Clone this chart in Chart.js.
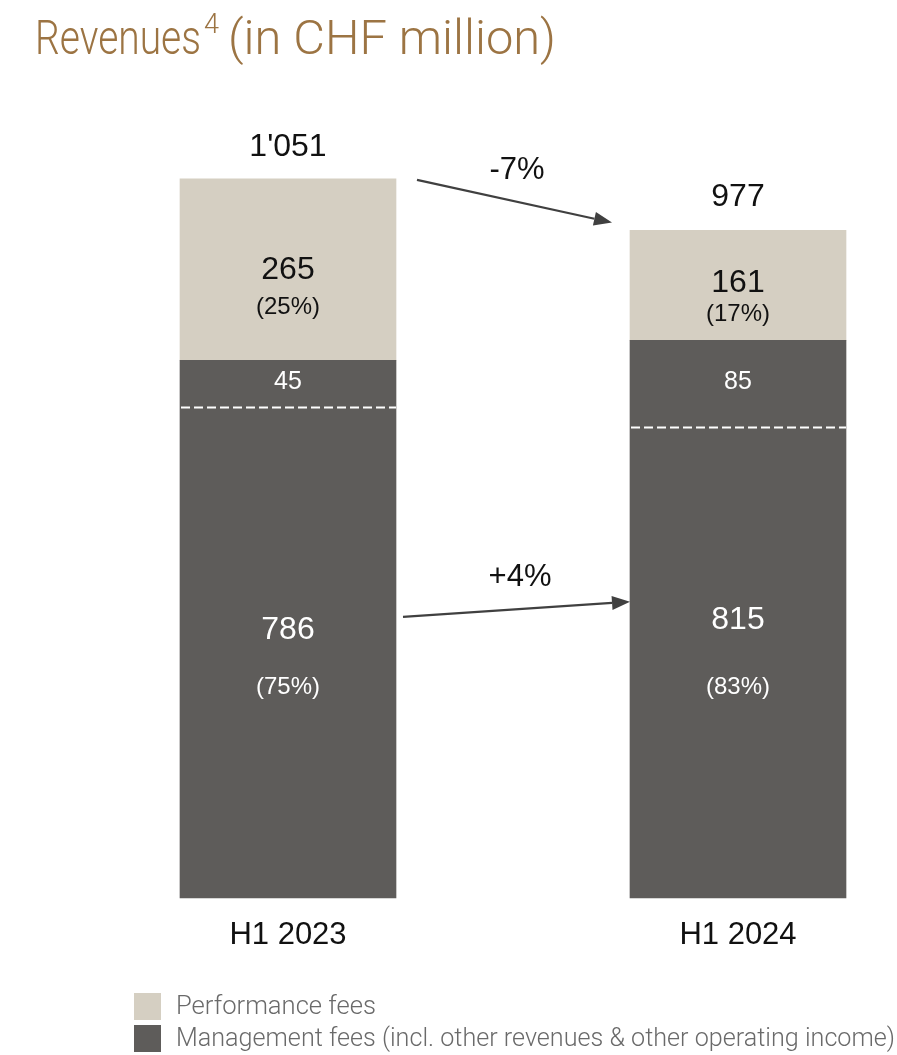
<!DOCTYPE html>
<html>
<head>
<meta charset="utf-8">
<script src="https://cdn.jsdelivr.net/npm/chart.js@4.4.1/dist/chart.umd.min.js"></script>
<style>
  html, body { margin: 0; padding: 0; background: #ffffff; }
  #wrap { width: 897px; height: 1055px; position: relative; }
</style>
</head>
<body>
<div id="wrap"><canvas id="c" width="897" height="1055"></canvas></div>
<script>
// ---- Data ----
const categories = ['H1 2023', 'H1 2024'];
const managementFees = [786, 815];
const performanceFees = [265, 161];
const totals = [1051, 977];
const managementShare = ['(75%)', '(83%)'];
const performanceShare = ['(25%)', '(17%)'];
const managementIncrement = [45, 85];      // portion shown above dashed line
const dashedLevel = [718, 689];            // dashed divider level as drawn
const totalLabels = ["1'051", '977'];
const changeTotal = '-7%';
const changeManagement = '+4%';

const COL_PERF = '#d5cfc2';
const COL_MGMT = '#5e5c5a';
const FONT = '"Liberation Sans", Arial, Helvetica, sans-serif';

const overlay = {
  id: 'overlay',
  afterDatasetsDraw(chart) {
    const ctx = chart.ctx;
    const xs = chart.scales.x, ys = chart.scales.y;
    const meta = chart.getDatasetMeta(0);
    ctx.save();
    // dashed dividers
    categories.forEach((c, i) => {
      const bar = meta.data[i];
      const half = bar.width / 2;
      const y = Math.round(ys.getPixelForValue(dashedLevel[i])) + 0.5;
      ctx.strokeStyle = '#ffffff';
      ctx.lineWidth = 2;
      ctx.setLineDash([9, 4]);
      ctx.beginPath();
      ctx.moveTo(bar.x - half + 1, y);
      ctx.lineTo(bar.x + half, y);
      ctx.stroke();
    });
    ctx.setLineDash([]);
    ctx.textAlign = 'center';
    ctx.textBaseline = 'middle';
    const perfNumOff = [1, -2], perfPctOff = [38, 29];
    const mgmtNumVal = [392, 406], mgmtPctVal = [308, 308];
    categories.forEach((c, i) => {
      const x = xs.getPixelForValue(i);
      // totals
      ctx.fillStyle = '#111111';
      ctx.font = '32px ' + FONT;
      ctx.fillText(totalLabels[i], x, ys.getPixelForValue(totals[i]) - 32);
      // performance segment
      const pm = ys.getPixelForValue(managementFees[i] + performanceFees[i] / 2);
      ctx.fillText(String(performanceFees[i]), x, pm + perfNumOff[i]);
      ctx.font = '24px ' + FONT;
      ctx.fillText(performanceShare[i], x, pm + perfPctOff[i]);
      // management increment
      ctx.fillStyle = '#ffffff';
      const im = (ys.getPixelForValue(managementFees[i]) + ys.getPixelForValue(dashedLevel[i])) / 2 - 1;
      ctx.font = '25px ' + FONT;
      ctx.fillText(String(managementIncrement[i]), x, im);
      // management main
      ctx.font = '32px ' + FONT;
      ctx.fillText(String(managementFees[i]), x, ys.getPixelForValue(mgmtNumVal[i]));
      ctx.font = '24px ' + FONT;
      ctx.fillText(managementShare[i], x, ys.getPixelForValue(mgmtPctVal[i]));
      // category labels
      ctx.fillStyle = '#111111';
      ctx.font = '31px ' + FONT;
      ctx.fillText(categories[i], x, chart.chartArea.bottom + 37, 118);
    });

    // arrows
    function arrow(x1, y1, x2, y2) {
      const ang = Math.atan2(y2 - y1, x2 - x1);
      const L = 18, W = 7;
      const bx = x2 - L * Math.cos(ang), by = y2 - L * Math.sin(ang);
      ctx.strokeStyle = '#404040';
      ctx.fillStyle = '#404040';
      ctx.lineWidth = 2.2;
      ctx.beginPath();
      ctx.moveTo(x1, y1);
      ctx.lineTo(bx, by);
      ctx.stroke();
      ctx.beginPath();
      ctx.moveTo(x2, y2);
      ctx.lineTo(bx + W * Math.sin(ang), by - W * Math.cos(ang));
      ctx.lineTo(bx - W * Math.sin(ang), by + W * Math.cos(ang));
      ctx.closePath();
      ctx.fill();
    }
    const b0 = meta.data[0], b1 = meta.data[1];
    const r0 = b0.x + b0.width / 2, l1 = b1.x - b1.width / 2;
    arrow(r0 + 21, ys.getPixelForValue(totals[0]) + 1, l1 - 18, ys.getPixelForValue(totals[1]) - 7);
    arrow(r0 + 7, ys.getPixelForValue(411), l1, ys.getPixelForValue(433));
    ctx.fillStyle = '#111111';
    ctx.font = '31px ' + FONT;
    ctx.fillText(changeTotal, (r0 + l1) / 2 + 4, 170);
    ctx.fillText(changeManagement, (r0 + l1) / 2 + 7, 577);

    // title
    ctx.textAlign = 'left';
    ctx.textBaseline = 'alphabetic';
    ctx.fillStyle = '#9c7443';
    ctx.font = '300 49px Roboto, ' + FONT;
    ctx.fillText('Revenues', 35, 54, 166);
    ctx.font = '300 28px Roboto, ' + FONT;
    ctx.fillText('4', 204, 33, 15);
    ctx.font = '300 49px Roboto, ' + FONT;
    ctx.fillText('(in CHF million)', 228, 54, 328);

    // legend
    const items = [
      { label: chart.data.datasets[1].label, color: COL_PERF, y: 993, w: 200 },
      { label: chart.data.datasets[0].label, color: COL_MGMT, y: 1025, w: 719 }
    ];
    items.forEach(it => {
      ctx.fillStyle = it.color;
      ctx.fillRect(134, it.y, 27, 27);
      ctx.fillStyle = '#6a6a6a';
      ctx.font = '300 26px Roboto, ' + FONT;
      ctx.textBaseline = 'middle';
      ctx.fillText(it.label, 176, it.y + 14, it.w);
    });
    ctx.restore();
  }
};

new Chart(document.getElementById('c'), {
  type: 'bar',
  data: {
    labels: categories,
    datasets: [
      { label: 'Management fees (incl. other revenues & other operating income)', data: managementFees,
        backgroundColor: COL_MGMT, barThickness: 216, clip: false },
      { label: 'Performance fees', data: performanceFees,
        backgroundColor: COL_PERF, barThickness: 216, clip: false }
    ]
  },
  options: {
    responsive: false,
    animation: false,
    layout: { padding: { left: 288, right: 159, top: 77, bottom: 157 } },
    scales: {
      x: { stacked: true, display: false, offset: false },
      y: { stacked: true, display: false, min: 0, max: 1200 }
    },
    plugins: { legend: { display: false }, tooltip: { enabled: false }, title: { display: false } }
  },
  plugins: [overlay]
});
</script>
</body>
</html>
